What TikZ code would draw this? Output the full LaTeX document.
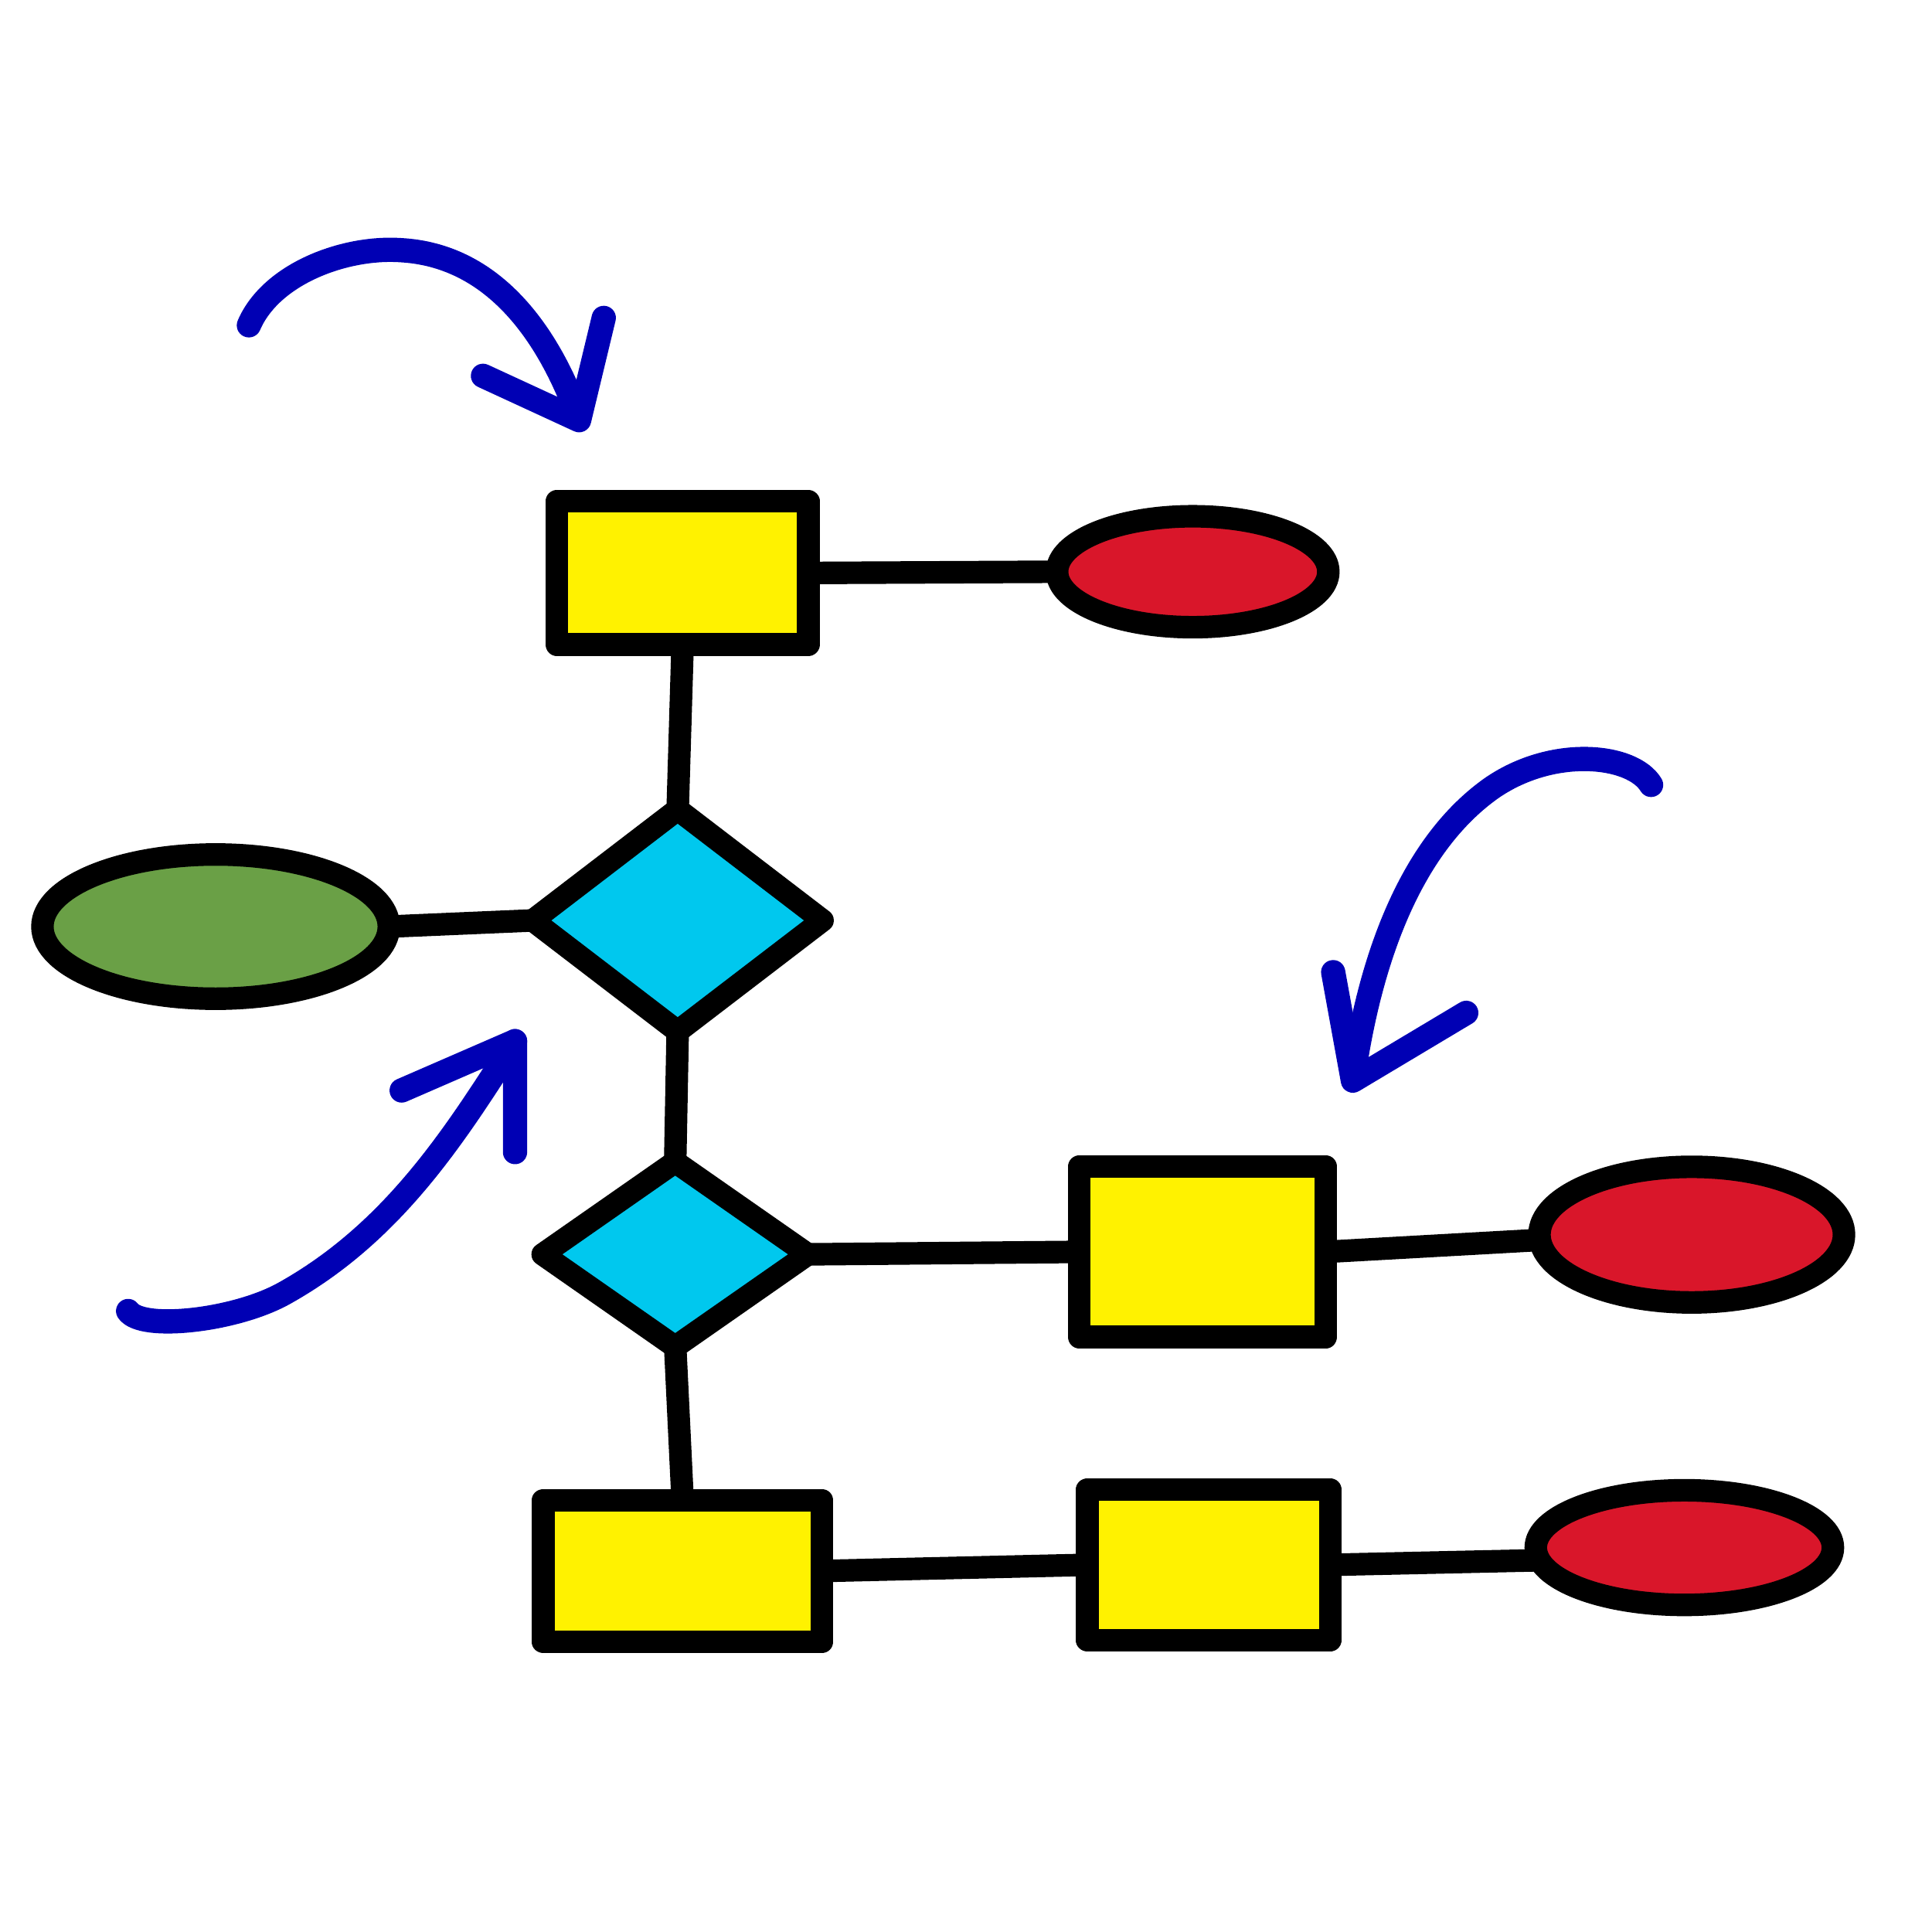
\documentclass[tikz,border=0pt]{standalone}
\usepackage{xcolor}
\usepackage{tikz}
\usetikzlibrary{shapes.geometric}

\definecolor{boxyellow}{RGB}{255,242,0}
\definecolor{ovalred}{RGB}{217,22,42}
\definecolor{ovalgreen}{RGB}{106,160,70}
\definecolor{diacyan}{RGB}{0,200,238}
\definecolor{penblue}{RGB}{0,0,180}

\tikzset{
    shp/.style={draw=black, line width=5.2pt, line join=round, inner sep=0pt, outer sep=0pt},
    box/.style={shp, rectangle, fill=boxyellow},
    dia/.style={shp, diamond, fill=diacyan},
    oval/.style={shp, ellipse, fill=ovalred},
    link/.style={line width=5.2pt},
    pen/.style={draw=penblue, line width=5.6pt, line cap=round, line join=round}
}

\begin{document}
\begin{tikzpicture}[x=0.01cm, y=-0.01cm]
    \useasboundingbox (0,0) rectangle (1568,1568);
    % shapes
    \node[box, minimum width=2.04cm, minimum height=1.16cm] at (554,465) (box1) {};
    \node[oval, minimum width=2.20cm, minimum height=0.90cm] at (968,464) (oval1) {};
    \node[dia, minimum width=2.35cm, minimum height=1.80cm] at (550,747) (dia1) {};
    \node[oval, fill=ovalgreen, minimum width=2.81cm, minimum height=1.17cm] at (175,752) (oval0) {};
    \node[dia, minimum width=2.15cm, minimum height=1.50cm] at (548,1018) (dia2) {};
    \node[box, minimum width=2.00cm, minimum height=1.38cm] at (976,1016) (box2) {};
    \node[oval, minimum width=2.47cm, minimum height=1.10cm] at (1373,1002) (oval2) {};
    \node[box, minimum width=2.26cm, minimum height=1.15cm] at (554,1275) (box3) {};
    \node[box, minimum width=1.97cm, minimum height=1.22cm] at (981,1270) (box4) {};
    \node[oval, minimum width=2.41cm, minimum height=0.93cm] at (1367,1256) (oval3) {};
    % links
    \draw[link] (box1.east) -- (oval1.west);
    \draw[link] (box1.south) -- (dia1.north);
    \draw[link] (oval0.east) -- (dia1.west);
    \draw[link] (dia1.south) -- (dia2.north);
    \draw[link] (dia2.east) -- (box2.west);
    \draw[link] (box2.east) -- (oval2.182);
    \draw[link] (dia2.south) -- (box3.north);
    \draw[link] (box3.east) -- (box4.west);
    \draw[link] (box4.east) -- (oval3.185);
    % pen arrows
    \draw[pen] (202,264) .. controls (220,222) and (280,200) .. (325,203)
        .. controls (400,207) and (445,270) .. (470,340);
    \draw[pen] (392,305) -- (470,341) -- (490,258);
    \draw[pen] (1340,637) .. controls (1325,612) and (1260,605) .. (1210,640)
        .. controls (1140,690) and (1110,790) .. (1098,876);
    \draw[pen] (1082,789) -- (1098,877) -- (1190,822);
    \draw[pen] (104,1064) .. controls (115,1080) and (190,1072) .. (230,1050)
        .. controls (320,1000) and (370,920) .. (418,845);
    \draw[pen] (326,885) -- (418,845) -- (418,935);
\end{tikzpicture}
\end{document}
